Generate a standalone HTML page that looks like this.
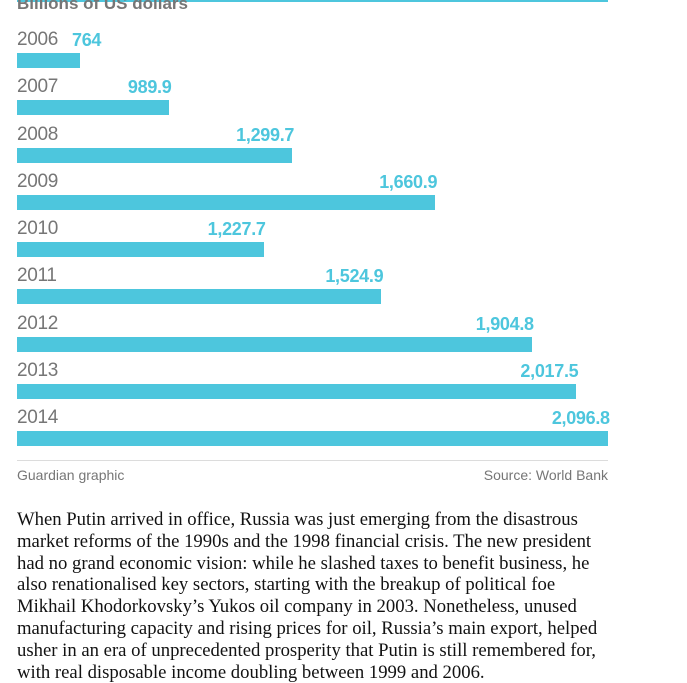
<!DOCTYPE html>
<html><head><meta charset="utf-8"><style>
body{margin:0;width:687px;height:682px;background:#fff;position:relative;overflow:hidden;font-family:"Liberation Sans",sans-serif}
.a{position:absolute}
.yr{position:absolute;left:17px;font-size:19px;color:#767676;line-height:20px;letter-spacing:-0.3px}
.bar{position:absolute;left:17px;height:15px;background:#4dc6dd}
.v{position:absolute;font-size:18px;font-weight:bold;color:#4dc6dd;line-height:20px;text-align:right;letter-spacing:-0.3px}
</style></head><body>
<div class="a" style="left:17px;top:0;width:591px;height:2px;background:#4dc6dd"></div>
<div class="a" style="left:17px;top:-6px;font-size:17px;font-weight:bold;color:#767676;line-height:20px">Billions of US dollars</div>
<div id="c"></div>
<div class="a" style="left:17px;top:460px;width:591px;height:1px;background:#dcdcdc"></div>
<div class="a" style="left:17px;top:466px;font-size:14px;color:#767676;line-height:18px">Guardian graphic</div>
<div class="a" style="right:79px;top:466px;font-size:14px;color:#767676;line-height:18px">Source: World Bank</div>
<div class="a" style="left:17px;top:509px;font-family:'Liberation Serif',serif;font-size:18.7px;line-height:21.8px;color:#121212;white-space:nowrap">When Putin arrived in office, Russia was just emerging from the disastrous<br>market reforms of the 1990s and the 1998 financial crisis. The new president<br>had no grand economic vision: while he slashed taxes to benefit business, he<br>also renationalised key sectors, starting with the breakup of political foe<br>Mikhail Khodorkovsky’s Yukos oil company in 2003. Nonetheless, unused<br>manufacturing capacity and rising prices for oil, Russia’s main export, helped<br>usher in an era of unprecedented prosperity that Putin is still remembered for,<br>with real disposable income doubling between 1999 and 2006.</div>
<script>
var d=[[2006,764,"764"],[2007,989.9,"989.9"],[2008,1299.7,"1,299.7"],[2009,1660.9,"1,660.9"],[2010,1227.7,"1,227.7"],[2011,1524.9,"1,524.9"],[2012,1904.8,"1,904.8"],[2013,2017.5,"2,017.5"],[2014,2096.8,"2,096.8"]];
var h="";
d.forEach(function(r,i){var t=53+i*47.25;var e=80+(r[1]-764)*0.396;
h+='<div class="yr" style="top:'+(t-23)+'px">'+r[0]+'</div>';
h+='<div class="bar" style="top:'+t+'px;width:'+(e-17)+'px"></div>';
if(i==0){h+='<div class="v" style="top:'+(t-23)+'px;left:72px;text-align:left">'+r[2]+'</div>';}
else h+='<div class="v" style="top:'+(t-23)+'px;left:'+(e-198)+'px;width:200px">'+r[2]+'</div>';});
document.getElementById("c").innerHTML=h;
</script>
</body></html>
